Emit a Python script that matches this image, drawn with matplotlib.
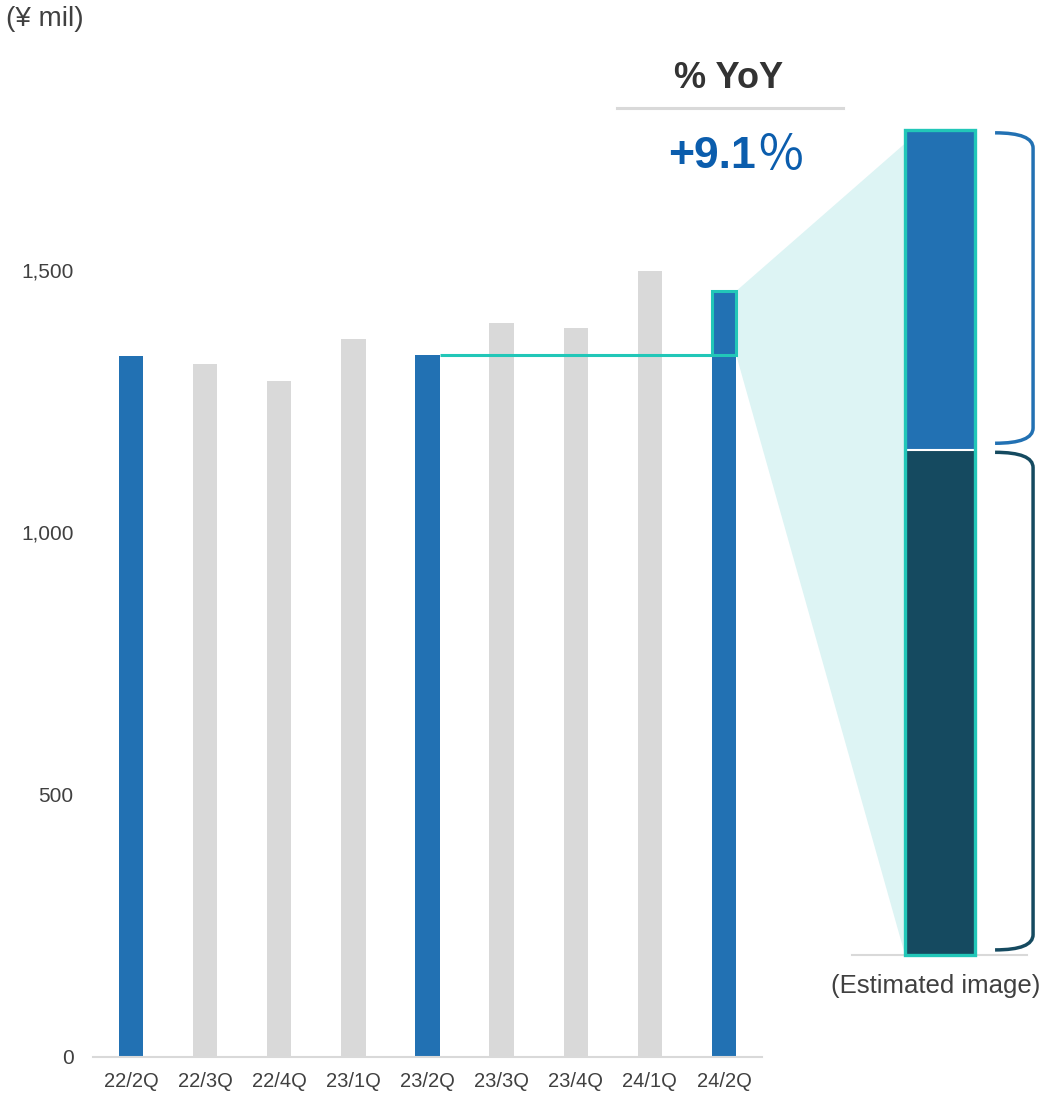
import matplotlib.pyplot as plt
from matplotlib.lines import Line2D
from matplotlib.patches import PathPatch, Polygon, Rectangle
from matplotlib.path import Path

plt.switch_backend("Agg")
plt.rcParams["font.family"] = ["Liberation Sans", "Noto Sans CJK JP", "DejaVu Sans"]

# data
QUARTERS = ["22/2Q", "22/3Q", "22/4Q", "23/1Q", "23/2Q", "23/3Q", "23/4Q", "24/1Q", "24/2Q"]
SALES = [1335, 1320, 1288, 1368, 1337, 1398, 1389, 1497, 1459]
HIGHLIGHT = [True, False, False, False, True, False, False, False, True]
Y_TICKS = [0, 500, 1000, 1500]
YOY_TEXT = "+9.1"
# estimated breakdown of the latest quarter (lower, upper)
SPLIT = [893, 566]

BLUE = "#2271B3"
GREY = "#D9D9D9"
DARK = "#154A60"
TEAL = "#22C7B8"
LIGHT = "#DDF4F4"
TEXT = "#404040"
W, H = 1043, 1093


def brace(ax, x0, x1, y_bot, y_top, r, color):
    verts = [(x0, y_top), (x1, y_top), (x1, y_top - r), (x1, y_bot + r), (x1, y_bot), (x0, y_bot)]
    codes = [Path.MOVETO, Path.CURVE3, Path.CURVE3, Path.LINETO, Path.CURVE3, Path.CURVE3]
    ax.add_patch(PathPatch(Path(verts, codes), fill=False, edgecolor=color, lw=2.5,
                           capstyle="butt", clip_on=False))


fig = plt.figure(figsize=(W / 100, H / 100), dpi=100)

# main bar chart
ax = fig.add_axes([93 / W, 36 / H, 669 / W, 1050 / H])
ax.set_facecolor("none")
bar_w = 0.33
x = list(range(len(QUARTERS)))
colors = [BLUE if h else GREY for h in HIGHLIGHT]
ax.bar(x, SALES, width=bar_w, color=colors, zorder=2)
ax.set_xlim(-0.513, 8.513)
ax.set_ylim(0, 2000)
ax.set_xticks(x, QUARTERS)
ax.set_yticks(Y_TICKS, [f"{v:,}" for v in Y_TICKS])
ax.tick_params(axis="x", length=0, pad=11, labelsize=14.5, labelcolor=TEXT)
ax.tick_params(axis="y", length=0, pad=14, labelsize=15, labelcolor=TEXT)
for side in ["left", "right", "top"]:
    ax.spines[side].set_visible(False)
ax.spines["bottom"].set_color(GREY)
ax.spines["bottom"].set_linewidth(1.5)

# year-on-year comparison marks
prev, last = SALES[4], SALES[-1]
ax.plot([4 + bar_w / 2, 8 - bar_w / 2], [prev, prev], color=TEAL, lw=2.2, zorder=3,
        solid_capstyle="butt")
ax.add_patch(Rectangle((8 - bar_w / 2, prev), bar_w, last - prev, fill=False,
                       edgecolor=TEAL, lw=2.2, zorder=4))

# estimated breakdown bar
ax2 = fig.add_axes([852 / W, 138 / H, 191 / W, 825 / H])
ax2.set_facecolor("none")
ax2.set_xlim(0, 1)
ax2.set_ylim(0, sum(SPLIT))
ax2.axis("off")
sx, sw = 0.461, 0.366
ax2.plot([0, 0.916], [0, 0], color=GREY, lw=1.5, zorder=1, clip_on=False)
ax2.bar(sx, SPLIT[0], width=sw, color=DARK, zorder=2)
ax2.bar(sx, SPLIT[1], bottom=SPLIT[0], width=sw, color=BLUE, zorder=2)
ax2.plot([sx - sw / 2, sx + sw / 2], [SPLIT[0], SPLIT[0]], color="white", lw=1.5, zorder=3)
ax2.add_patch(Rectangle((sx - sw / 2, 0), sw, sum(SPLIT), fill=False, edgecolor=TEAL,
                        lw=2.4, zorder=4, clip_on=False))
brace(ax2, 0.749, 0.948, SPLIT[0] + 12, sum(SPLIT) - 5, 27, BLUE)
brace(ax2, 0.749, 0.948, 9, SPLIT[0] - 4, 27, DARK)

# zoom wedge between the two
to_fig = fig.transFigure.inverted()
pts = [
    ax.transData.transform((8 + bar_w / 2, last)),
    ax2.transData.transform((sx - sw / 2 + 0.08, sum(SPLIT))),
    ax2.transData.transform((sx - sw / 2, 0)),
    ax.transData.transform((8 + bar_w / 2, prev)),
]
wedge = Polygon(to_fig.transform(pts), closed=True, facecolor=LIGHT, edgecolor="none",
                transform=fig.transFigure, zorder=-1)
fig.add_artist(wedge)

# texts
fig.text(6 / W, 1 - 19 / H, "(¥ mil)", fontsize=20, color=TEXT, va="center", ha="left")
fig.text(729 / W, 1 - 79 / H, "% YoY", fontsize=26, fontweight="bold", color="#333333",
         ha="center", va="center")
fig.add_artist(Line2D([617 / W, 843 / W], [1 - 108 / H] * 2, color=GREY, lw=2.2,
                      transform=fig.transFigure))
fig.text(756 / W, 1 - 157 / H, YOY_TEXT, fontsize=32, fontweight="bold", color="#0B5DAD",
         ha="right", va="center")
fig.text(756 / W, 1 - 156 / H, "％", fontsize=35, color="#0B5DAD", ha="left", va="center",
         family=["Noto Sans CJK JP"])
fig.text(936 / W, 1 - 986 / H, "(Estimated image)", fontsize=18.5, color=TEXT,
         ha="center", va="center")

fig.savefig("out.png", dpi=100)
